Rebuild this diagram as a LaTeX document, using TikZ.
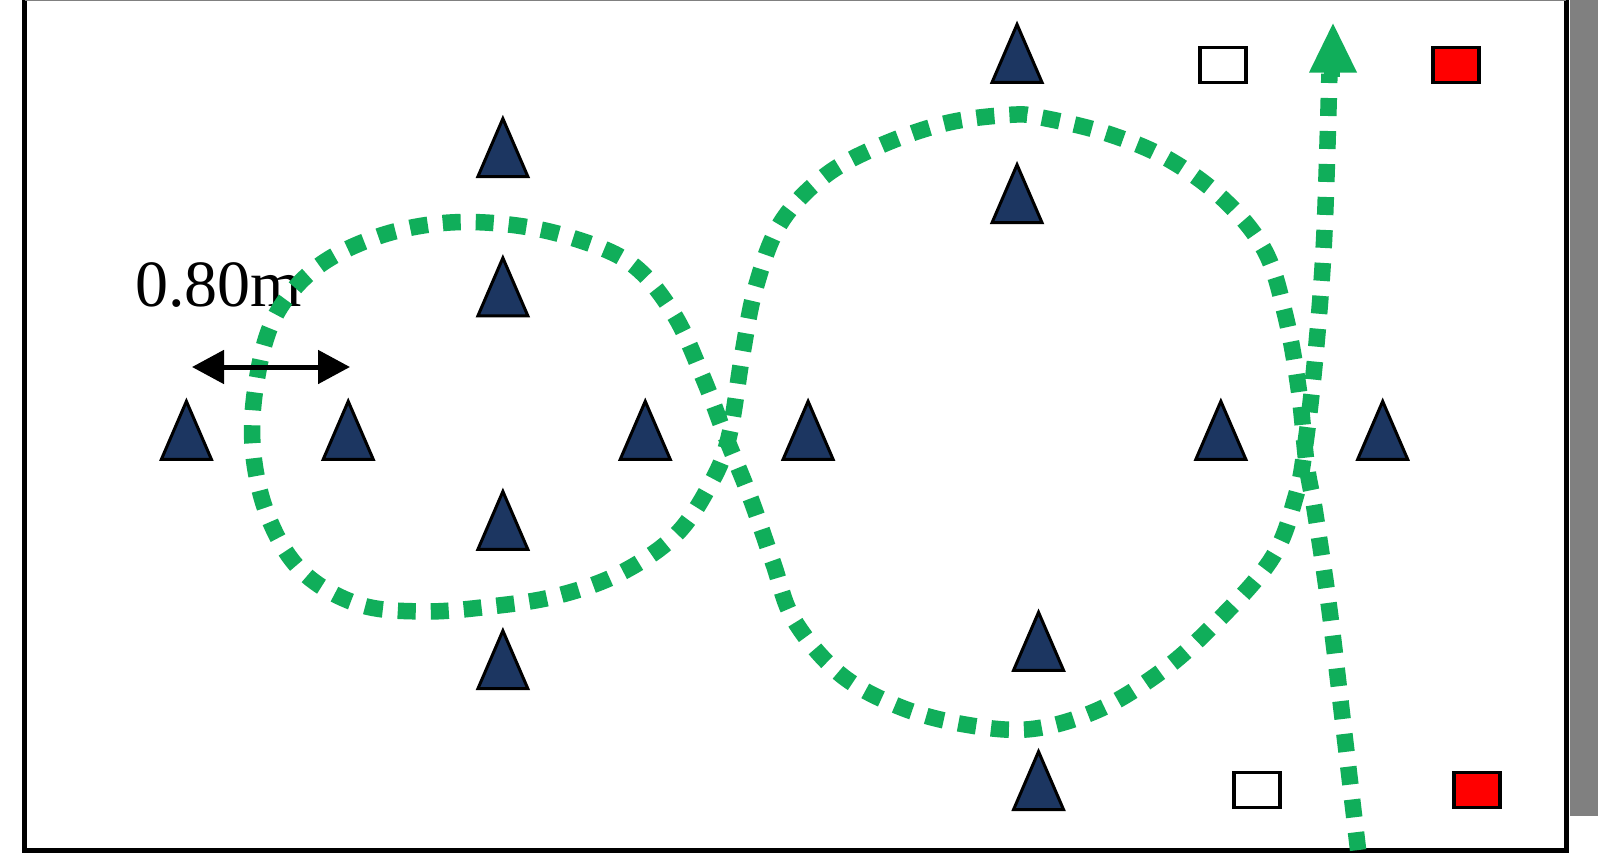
\documentclass[tikz,border=0pt]{standalone}
\usepackage{fontspec}
\setmainfont{Liberation Serif}
\usetikzlibrary{shapes.geometric,arrows.meta}
\definecolor{navy}{HTML}{1C3661}
\definecolor{pathgreen}{HTML}{10AE5A}
\tikzset{
  tri/.style={isosceles triangle,isosceles triangle stretches,shape border rotate=90,
    minimum width=50pt,minimum height=58pt,inner sep=0pt,anchor=apex,draw=black,fill=navy,line width=3pt,line join=miter},
  box/.style={rectangle,draw=black,line width=3.5pt,minimum width=46pt,minimum height=35pt,inner sep=0pt},
  route/.style={draw=pathgreen,line width=16.5pt,dash pattern=on 18pt off 15pt},
}
\begin{document}
\begin{tikzpicture}[x=1pt,y=-1pt]
\useasboundingbox (0,0) rectangle (1606,859);
\fill[white] (0,0) rectangle (1606,859);
\clip (0,0) rectangle (1606,859);
\fill[gray] (1570,0) rectangle (1598,816);
\draw[black,line width=5pt] (24.5,-2) -- (24.5,850) -- (1566,850) -- (1566,-2);
\draw[gray,line width=1.5pt] (25,0) -- (1566,0);
\node[anchor=base west,font=\fontsize{66}{70}\selectfont,inner sep=0pt] (lab) at (135,306) {0.80m};
\begin{scope}[x=1.0242pt,y=-1.0242pt]
\foreach \n/\px/\py in {a/182/388,b/340/388,c/630/388,d/789/388,e/491/112,f/491/248,g/491/476,h/491/612,i/993/20,j/993/157,k/1014/594,l/1014/730,m/1192/388,n/1350/388}
  \node[tri] (t\n) at (\px,\py) {};
\coordinate (rs) at (1326,830);
\coordinate (re) at (1298,72);
\draw[route] plot[smooth,tension=0.6] coordinates {(rs) (1313,720) (1298,595) (1284,500) (1276,455) (1268,380) (1255,308) (1235,245) (1195,195) (1140,155) (1080,130) (1018,115) (988,112) (925,120) (860,142) (805,172) (762,218) (738,280) (725,345) (712,425) (695,470) (660,522) (605,560) (543,582) (480,592) (414,597) (350,590) (295,558) (262,505) (247,440) (250,375) (268,310) (308,262) (366,232) (430,218) (495,219) (558,232) (617,258) (658,307) (687,370) (708,425) (733,487) (755,550) (775,605) (820,658) (878,690) (940,707) (1005,712) (1068,695) (1125,662) (1175,620) (1240,548) (1265,485) (1275,430) (1285,340) (1293,230) (re)};
\end{scope}
\node[isosceles triangle,isosceles triangle stretches,shape border rotate=90,minimum width=48pt,minimum height=49pt,inner sep=0pt,anchor=apex,fill=pathgreen] (head) at (1333,23) {};
\fill[pathgreen] (1324,70) rectangle (1340,77);
\coordinate (al) at (192,367);
\coordinate (ar) at (350,367);
\draw[{Triangle[length=32pt,width=33pt]}-{Triangle[length=32pt,width=33pt]},line width=5pt] (al) -- (ar);
\node[box,fill=white] (w1) at (1223,65) {};
\node[box,fill=red] (r1) at (1456,65) {};
\node[box,fill=white] (w2) at (1257,790) {};
\node[box,fill=red] (r2) at (1477,790) {};
\end{tikzpicture}
\end{document}
